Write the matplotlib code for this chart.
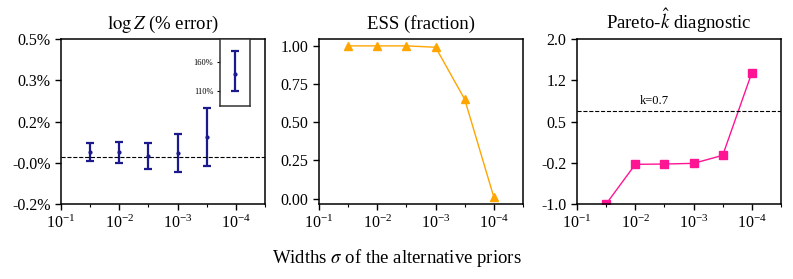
import numpy as np
import matplotlib
matplotlib.use("Agg")
import matplotlib.pyplot as plt
from matplotlib.ticker import FixedLocator, FixedFormatter, NullFormatter

plt.rcParams['font.family'] = ['Liberation Serif', 'DejaVu Serif']
plt.rcParams['mathtext.fontset'] = 'stix'

# ---- data ----
sigma = [10**-1.5, 10**-2, 10**-2.5, 10**-3, 10**-3.5]
sigma_all = [10**-1.5, 10**-2, 10**-2.5, 10**-3, 10**-3.5, 10**-4]

logz_err = [0.021, 0.019, 0.005, 0.015, 0.086]
logz_unc = [0.037, 0.045, 0.055, 0.080, 0.123]

inset_sigma = [1e-4]
inset_err = [139.0]
inset_lo = [29.0]
inset_hi = [41.0]

ess = [1.00, 1.00, 1.00, 0.991, 0.65, 0.009]
pareto_k = [-1.0, -0.279, -0.273, -0.261, -0.115, 1.388]
k_threshold = 0.7

logz_yticks = [-0.2, -0.025, 0.15, 0.325, 0.5]
logz_yticklabels = ['-0.2%', '-0.0%', '0.2%', '0.3%', '0.5%']
ess_yticks = [0.0, 0.25, 0.5, 0.75, 1.0]
ess_yticklabels = ['0.00', '0.25', '0.50', '0.75', '1.00']
k_yticks = [-1.0, -0.25, 0.5, 1.25, 2.0]
k_yticklabels = ['-1.0', '-0.2', '0.5', '1.2', '2.0']
inset_yticks = [110, 160]
inset_yticklabels = ['110%', '160%']

xmajor = [1e-1, 1e-2, 1e-3, 1e-4]
xminor = [10**-1.5, 10**-2.5, 10**-3.5, 10**-4.5]

# ---- figure ----
W, H = 793, 279
fig = plt.figure(figsize=(W/100, H/100), dpi=100)

lefts = [61, 319, 577]
aw = 204
top, bottom = 39, 204
axes = []
for l in lefts:
    ax = fig.add_axes([l/W, 1-bottom/H, aw/W, (bottom-top)/H])
    axes.append(ax)

def style_x(ax):
    ax.set_xscale('log')
    ax.set_xlim(1e-1, 10**-4.5)
    ax.xaxis.set_major_locator(FixedLocator(xmajor))
    ax.xaxis.set_minor_locator(FixedLocator(xminor))
    ax.xaxis.set_minor_formatter(NullFormatter())
    ax.tick_params(axis='both', which='major', labelsize=11.5, length=4, width=1, direction='out')
    ax.tick_params(axis='x', which='minor', length=2.5, width=0.8)
    for s in ax.spines.values():
        s.set_linewidth(1.1)

# panel 1
ax = axes[0]
ax.errorbar(sigma, logz_err, yerr=logz_unc, fmt='.', color='#1a1a8c', ms=4,
            elinewidth=1.6, capsize=3, capthick=1.6)
ax.axhline(0.0, color='black', ls='--', lw=0.8)
ax.set_ylim(-0.2, 0.5)
ax.yaxis.set_major_locator(FixedLocator(logz_yticks))
ax.yaxis.set_major_formatter(FixedFormatter(logz_yticklabels))
style_x(ax)
ax.set_title(r'$\log Z$ (% error)', fontsize=13.5, pad=7)

ins = ax.inset_axes([0.777, 0.595, 0.151, 0.405])
ins.errorbar(inset_sigma, inset_err, yerr=[inset_lo, inset_hi], fmt='.', color='#1a1a8c',
             ms=4, elinewidth=1.6, capsize=3, capthick=1.6)
ins.set_xscale('log')
ins.set_xlim(1e-4*10**0.265, 1e-4/10**0.265)
ins.set_ylim(83.5, 201)
ins.set_xticks([])
ins.xaxis.set_minor_locator(FixedLocator([]))
ins.yaxis.set_major_locator(FixedLocator(inset_yticks))
ins.yaxis.set_major_formatter(FixedFormatter(inset_yticklabels))
ins.tick_params(axis='y', labelsize=6, length=2.5, width=0.8, pad=2)
for s in ins.spines.values():
    s.set_linewidth(1.1)
    s.set_color('#333333')

# panel 2
ax = axes[1]
ax.plot(sigma_all, ess, color='orange', marker='^', ms=6, lw=1)
ax.set_ylim(-0.035, 1.045)
ax.yaxis.set_major_locator(FixedLocator(ess_yticks))
ax.yaxis.set_major_formatter(FixedFormatter(ess_yticklabels))
style_x(ax)
ax.set_title('ESS (fraction)', fontsize=13.5, pad=7)

# panel 3
ax = axes[2]
ax.plot(sigma_all, pareto_k, color='deeppink', marker='s', ms=5.5, lw=1)
ax.axhline(k_threshold, color='black', ls='--', lw=0.8)
ax.text(10**-2.07, k_threshold + 0.06, 'k=0.7', fontsize=9, ha='left', va='bottom')
ax.set_ylim(-1.0, 2.0)
ax.yaxis.set_major_locator(FixedLocator(k_yticks))
ax.yaxis.set_major_formatter(FixedFormatter(k_yticklabels))
style_x(ax)
ax.set_title(r'Pareto-$\hat{k}$ diagnostic', fontsize=13.5, pad=7)

fig.text(0.5, 1-258/H, r'Widths $\sigma$ of the alternative priors', fontsize=13.5,
         ha='center', va='center')

fig.savefig('out.png', dpi=100)
